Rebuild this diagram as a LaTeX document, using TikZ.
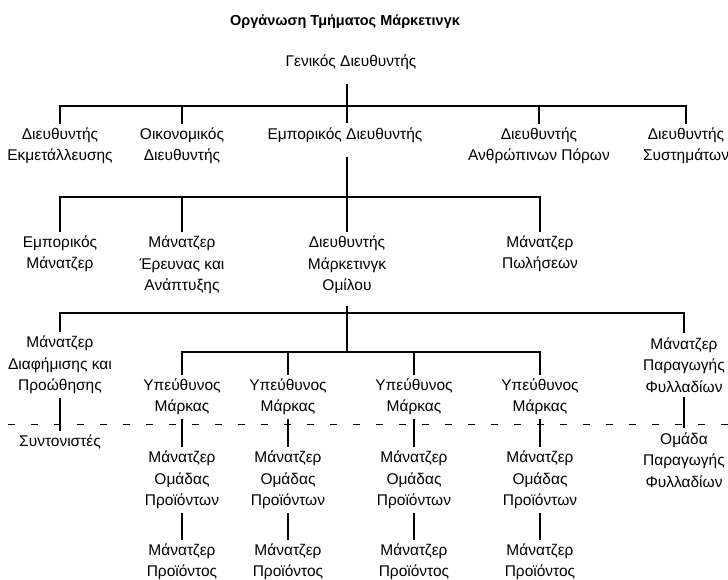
\documentclass[tikz,border=0pt]{standalone}
\usepackage{fontspec}
\setmainfont{Liberation Sans}
\begin{document}
\begin{tikzpicture}[x=1pt,y=-1pt,
  lbl/.style={align=center,inner xsep=0pt,inner ysep=4pt,font=\fontsize{15.5}{21.5}\selectfont},
  conn/.style={line width=1.1pt,black},
  dline/.style={line width=0.9pt,dash pattern=on 7pt off 16pt}]
\useasboundingbox (0,0) rectangle (728,580);
\node[lbl,font=\fontsize{14.5}{20}\selectfont\bfseries] (title) at (345,22) {Οργάνωση Τμήματος Μάρκετινγκ};
\node[lbl] (gm) at (351,62) {Γενικός Διευθυντής};
% level 1
\node[lbl] (exm) at (60,146) {Διευθυντής\\Εκμετάλλευσης};
\node[lbl] (oik) at (182,146) {Οικονομικός\\Διευθυντής};
\node[lbl] (emp) at (345,135) {Εμπορικός Διευθυντής};
\node[lbl] (anth) at (539,146) {Διευθυντής\\Ανθρώπινων Πόρων};
\node[lbl] (sys) at (686,146) {Διευθυντής\\Συστημάτων};
% level 2
\node[lbl] (empm) at (60,254) {Εμπορικός\\Μάνατζερ};
\node[lbl] (rnd) at (182,265) {Μάνατζερ\\Έρευνας και\\Ανάπτυξης};
\node[lbl] (dmo) at (347,265) {Διευθυντής\\Μάρκετινγκ\\Ομίλου};
\node[lbl] (sales) at (540,254) {Μάνατζερ\\Πωλήσεων};
% level 3
\node[lbl] (madv) at (60,365) {Μάνατζερ\\Διαφήμισης και\\Προώθησης};
\node[lbl] (leaf) at (684,365) {Μάνατζερ\\Παραγωγής\\Φυλλαδίων};
\node[lbl] (br1) at (182,397) {Υπεύθυνος\\Μάρκας};
\node[lbl] (br2) at (288,397) {Υπεύθυνος\\Μάρκας};
\node[lbl] (br3) at (414,397) {Υπεύθυνος\\Μάρκας};
\node[lbl] (br4) at (540,397) {Υπεύθυνος\\Μάρκας};
% below dashed line
\node[lbl] (coord) at (60,442) {Συντονιστές};
\node[lbl] (team) at (684,460) {Ομάδα\\Παραγωγής\\Φυλλαδίων};
\node[lbl] (pg1) at (182,480) {Μάνατζερ\\Ομάδας\\Προϊόντων};
\node[lbl] (pg2) at (288,480) {Μάνατζερ\\Ομάδας\\Προϊόντων};
\node[lbl] (pg3) at (414,480) {Μάνατζερ\\Ομάδας\\Προϊόντων};
\node[lbl] (pg4) at (540,480) {Μάνατζερ\\Ομάδας\\Προϊόντων};
\node[lbl] (pm1) at (182,562) {Μάνατζερ\\Προϊόντος};
\node[lbl] (pm2) at (288,562) {Μάνατζερ\\Προϊόντος};
\node[lbl] (pm3) at (414,562) {Μάνατζερ\\Προϊόντος};
\node[lbl] (pm4) at (540,562) {Μάνατζερ\\Προϊόντος};
% bus levels
\coordinate (b1) at (347,106);
\coordinate (b2) at (347,197);
\coordinate (b3) at (347,313);
\coordinate (b4) at (347,352);
\coordinate (dl) at (8,424);
\coordinate (dr) at (728,424);
% connectors level 0-1
\draw[conn,shorten <=10pt] (gm.south -| b1) -- (b1);
\draw[conn] (exm.north) -- (exm.north |- b1) -- (sys.north |- b1) -- (sys.north);
\draw[conn] (oik.north) -- (oik.north |- b1);
\draw[conn] (emp.north -| b1) -- (b1);
\draw[conn] (anth.north) -- (anth.north |- b1);
% level 1-2
\draw[conn,shorten <=10pt] (emp.south -| b2) -- (b2);
\draw[conn] (empm.north) -- (empm.north |- b2) -- (sales.north |- b2) -- (sales.north);
\draw[conn] (rnd.north) -- (rnd.north |- b2);
\draw[conn] (dmo.north) -- (b2);
% level 2-3
\draw[conn,shorten <=8pt] (dmo.south) -- (b4);
\draw[conn] (madv.north) -- (madv.north |- b3) -- (leaf.north |- b3) -- (leaf.north);
\draw[conn] (br1.north) -- (br1.north |- b4) -- (br4.north |- b4) -- (br4.north);
\draw[conn] (br2.north) -- (br2.north |- b4);
\draw[conn] (br3.north) -- (br3.north |- b4);
% lower connectors
\draw[conn] (madv.south) -- (coord.north);
\draw[conn] (leaf.south) -- (team.north);
\foreach \i in {1,2,3,4}{
  \draw[conn] (br\i.south) -- (pg\i.north);
  \draw[conn] (pg\i.south) -- (pm\i.north);
}
% dashed divider
\draw[dline] (dl) -- (dr);
\end{tikzpicture}
\end{document}
